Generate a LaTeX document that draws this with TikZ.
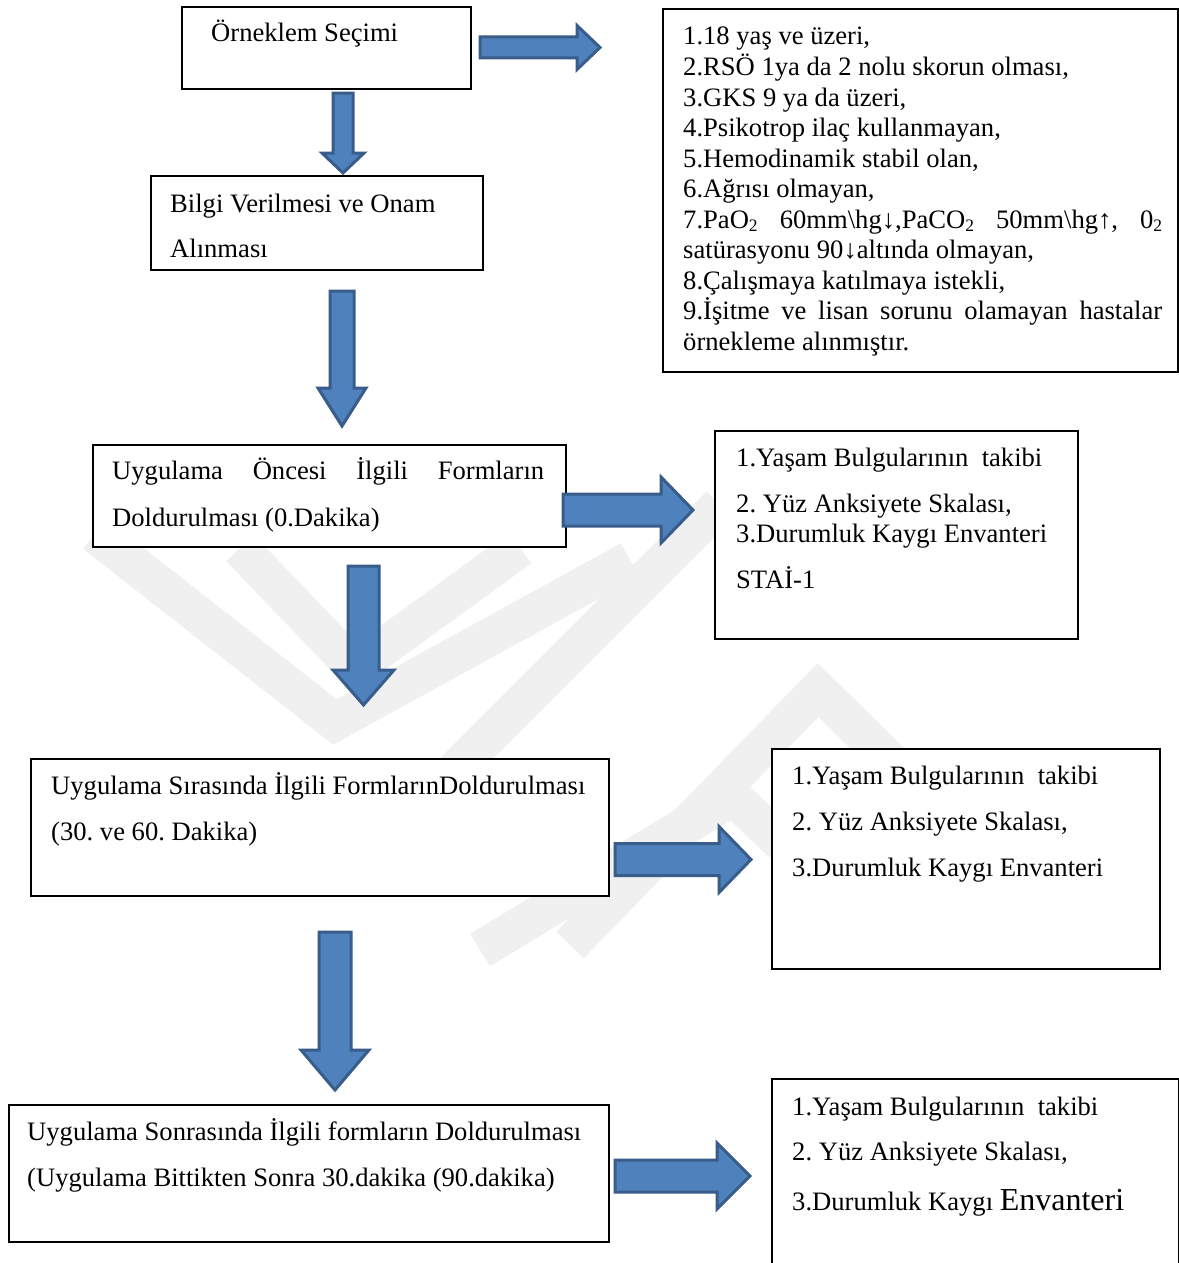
\documentclass[tikz,border=0pt]{standalone}
\usepackage{fontspec}
\setmainfont{Liberation Serif}
\frenchspacing
\definecolor{afill}{HTML}{4F81BD}
\definecolor{aline}{HTML}{385D8A}
\newcommand\myfs{\fontsize{26.6}{30.6}\selectfont\frenchspacing}
\newcommand\subtwo{\raisebox{-0.3ex}{\fontsize{17.5}{17.5}\selectfont 2}}
% right block arrow: x0, xhead, xtip, yc, shaft half, head half
\newcommand\rblock[6]{\draw[barrow] (#1,{#4-#5}) -- (#2,{#4-#5}) -- (#2,{#4-#6}) -- (#3,#4) -- (#2,{#4+#6}) -- (#2,{#4+#5}) -- (#1,{#4+#5}) -- cycle;}
% down block arrow: xc, y0, yhead, ytip, shaft half, head half
\newcommand\dblock[6]{\draw[barrow] ({#1-#5},#2) -- ({#1+#5},#2) -- ({#1+#5},#3) -- ({#1+#6},#3) -- (#1,#4) -- ({#1-#6},#3) -- ({#1-#5},#3) -- cycle;}
\begin{document}
\begin{tikzpicture}[x=1pt,y=-1pt,
  box/.style={draw=black, fill=white, line width=1.8pt, anchor=north west, inner sep=0pt},
  txt/.style={anchor=base west, inner sep=0pt, font=\myfs},
  barrow/.style={fill=afill, draw=aline, line width=3pt, line join=miter},
  wm/.style={draw=black!6, line width=38pt, line join=miter, line cap=butt}]
\useasboundingbox (0,0) rectangle (1178,1263);
\fill[white] (0,0) rectangle (1178,1263);
% watermark (faint background logo)
\draw[wm] (95,534) -- (335,722) -- (630,560);
\draw[wm] (240,548) -- (355,668) -- (520,548);
\draw[wm] (440,785) -- (720,505);
\draw[wm] (570,945) -- (818,690) -- (920,790);
\draw[wm] (480,950) -- (733,797) -- (800,860);
% boxes
\node[box, minimum width=289pt, minimum height=82pt] (b1) at (181,6) {};
\node[box, minimum width=515pt, minimum height=363pt] (r1) at (662,8) {};
\node[box, minimum width=332pt, minimum height=94pt] (b2) at (150,175) {};
\node[box, minimum width=473pt, minimum height=102pt] (b3) at (92,444) {};
\node[box, minimum width=363pt, minimum height=208pt] (r2) at (714,430) {};
\node[box, minimum width=578pt, minimum height=137pt] (b4) at (30,758) {};
\node[box, minimum width=388pt, minimum height=220pt] (r3) at (771,748) {};
\node[box, minimum width=600pt, minimum height=137pt] (b5) at (8,1104) {};
\node[box, minimum width=407pt, minimum height=186pt] (r4) at (771,1078) {};
% arrows
\rblock{480}{577}{600}{47.5}{10.5}{22}
\dblock{343}{93}{153}{173}{10}{21}
\dblock{342}{291}{388}{426}{12}{24}
\rblock{563}{661}{693}{510}{16}{33}
\dblock{363.5}{566}{670}{705}{15.5}{30.5}
\rblock{615}{719}{751}{859.5}{16}{33}
\dblock{335}{932}{1050}{1090}{16}{34}
\rblock{615}{717}{750}{1176}{16}{33}
% texts
\node[txt] (t1) at (211,42) {Örneklem Seçimi};
\node[txt] (ra) at (683,45) {1.18 yaş ve üzeri,};
\node[txt] (rb) at (683,75.5) {2.RSÖ 1ya da 2 nolu skorun olması,};
\node[txt] (rc) at (683,106) {3.GKS 9 ya da üzeri,};
\node[txt] (rd) at (683,136.5) {4.Psikotrop ilaç kullanmayan,};
\node[txt] (re) at (683,167) {5.Hemodinamik stabil olan,};
\node[txt] (rf) at (683,197.5) {6.Ağrısı olmayan,};
\node[txt] (rg) at (683,228) {\makebox[479pt][s]{7.PaO\subtwo\ 60mm\textbackslash hg↓,PaCO\subtwo\ 50mm\textbackslash hg↑, 0\subtwo}};
\node[txt] (rh) at (683,258.5) {satürasyonu 90↓altında olmayan,};
\node[txt] (ri) at (683,289) {8.Çalışmaya katılmaya istekli,};
\node[txt] (rj) at (683,319.5) {\makebox[479pt][s]{9.İşitme ve lisan sorunu olamayan hastalar}};
\node[txt] (rk) at (683,350) {örnekleme alınmıştır.};
\node[txt] (t2a) at (170,212) {Bilgi Verilmesi ve Onam};
\node[txt] (t2b) at (170,257) {Alınması};
\node[txt] (t3a) at (112,479) {\makebox[432pt][s]{Uygulama Öncesi İlgili Formların}};
\node[txt] (t3b) at (112,526) {Doldurulması (0.Dakika)};
\node[txt] (s1) at (736,466) {1.Yaşam Bulgularının\ \ takibi};
\node[txt] (s2) at (736,512) {2. Yüz Anksiyete Skalası,};
\node[txt] (s3) at (736,542.5) {3.Durumluk Kaygı Envanteri};
\node[txt] (s4) at (736,588) {STAİ-1};
\node[txt] (t4a) at (51,794) {Uygulama Sırasında İlgili FormlarınDoldurulması};
\node[txt] (t4b) at (51,840) {(30. ve 60. Dakika)};
\node[txt] (u1) at (792,784) {1.Yaşam Bulgularının\ \ takibi};
\node[txt] (u2) at (792,830) {2. Yüz Anksiyete Skalası,};
\node[txt] (u3) at (792,876) {3.Durumluk Kaygı Envanteri};
\node[txt] (t5a) at (27,1140) {Uygulama Sonrasında İlgili formların Doldurulması};
\node[txt] (t5b) at (27,1186) {(Uygulama Bittikten Sonra 30.dakika (90.dakika)};
\node[txt] (v1) at (792,1115) {1.Yaşam Bulgularının\ \ takibi};
\node[txt] (v2) at (792,1160) {2. Yüz Anksiyete Skalası,};
\node[txt] (v3) at (792,1210) {3.Durumluk Kaygı {\fontsize{32}{36}\selectfont Envanteri}};
\end{tikzpicture}
\end{document}
